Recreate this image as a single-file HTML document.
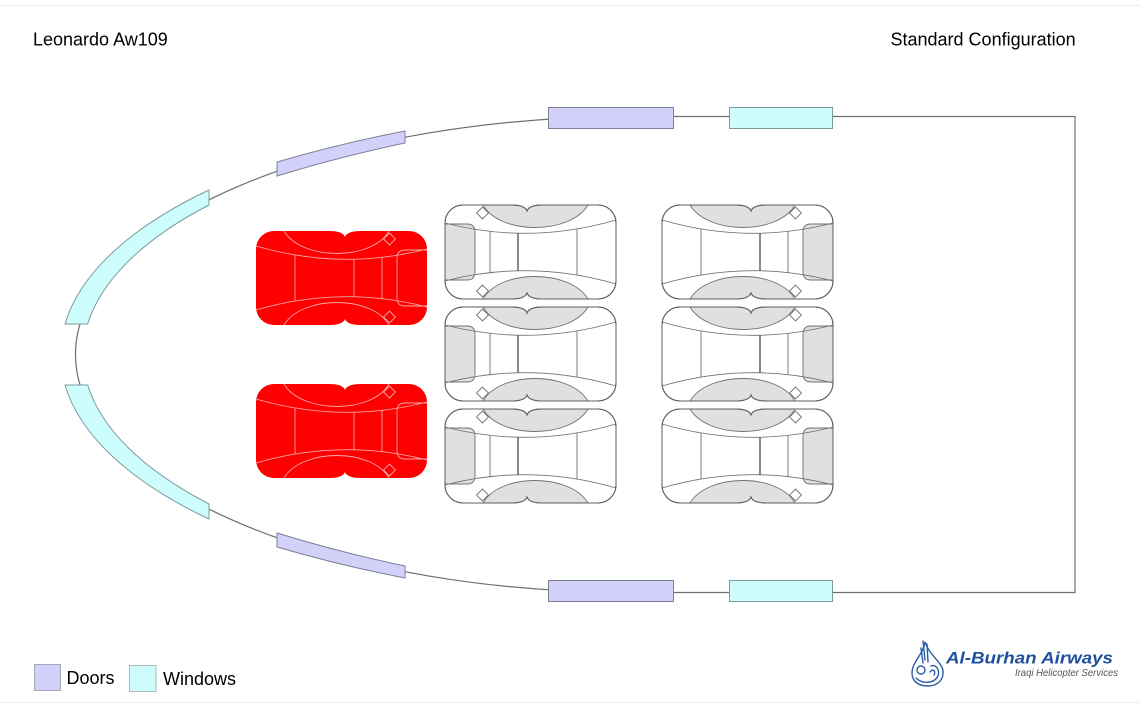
<!DOCTYPE html>
<html><head><meta charset="utf-8"><style>
html,body{margin:0;padding:0;background:#fff;}
svg{display:block;}
text{font-family:"Liberation Sans",Arial,sans-serif;}
</style></head><body>
<svg width="1140" height="709" viewBox="0 0 1140 709" xmlns="http://www.w3.org/2000/svg">
<defs>
<g id="sg">
 <path d="M18,0 L66,0 Q80,0 82,6 Q84,0 98,0 L153,0 A18,18 0 0 1 171,18 L171,76 A18,18 0 0 1 153,94 L98,94 Q84,94 82,88 Q80,94 66,94 L18,94 A18,18 0 0 1 0,76 L0,18 A18,18 0 0 1 18,0 Z" fill="#fff" stroke="#5e5e5e" stroke-width="1"/>
 <path d="M38,0 L66,0 Q80,0 82,6 Q84,0 98,0 L143,0 C125,30 55,30 38,0 Z" fill="#e0e0e0" stroke="#707070" stroke-width="0.9"/>
 <path d="M38,94 L66,94 Q80,94 82,88 Q84,94 98,94 L143,94 C125,64 55,64 38,94 Z" fill="#e0e0e0" stroke="#707070" stroke-width="0.9"/>
 <path d="M0,19 L22,19 Q30,19 30,27 L30,67 Q30,75 22,75 L0,75 Z" fill="#e0e0e0" stroke="#707070" stroke-width="0.9"/>
 <path d="M0,18 Q85,40 171,15" fill="none" stroke="#707070" stroke-width="0.9"/>
 <path d="M0,76 Q85,54 171,79" fill="none" stroke="#707070" stroke-width="0.9"/>
 <line x1="45" y1="26.3" x2="45" y2="67.7" stroke="#707070" stroke-width="0.9"/>
 <line x1="73" y1="28.2" x2="73" y2="65.8" stroke="#4a4a4a" stroke-width="1.3"/>
 <line x1="132" y1="24" x2="132" y2="70" stroke="#707070" stroke-width="0.9"/>
 <rect x="-4.2" y="-4.2" width="8.4" height="8.4" transform="translate(37.5,8) rotate(45)" fill="#fff" stroke="#707070" stroke-width="0.9"/>
 <rect x="-4.2" y="-4.2" width="8.4" height="8.4" transform="translate(37.5,86) rotate(45)" fill="#fff" stroke="#707070" stroke-width="0.9"/>
 <path d="M18,0 L66,0 Q80,0 82,6 Q84,0 98,0 L153,0 A18,18 0 0 1 171,18 L171,76 A18,18 0 0 1 153,94 L98,94 Q84,94 82,88 Q80,94 66,94 L18,94 A18,18 0 0 1 0,76 L0,18 A18,18 0 0 1 18,0 Z" fill="none" stroke="#5e5e5e" stroke-width="1"/>
</g>
<g id="sr">
 <path d="M18,0 L66,0 Q80,0 82,6 Q84,0 98,0 L153,0 A18,18 0 0 1 171,18 L171,76 A18,18 0 0 1 153,94 L98,94 Q84,94 82,88 Q80,94 66,94 L18,94 A18,18 0 0 1 0,76 L0,18 A18,18 0 0 1 18,0 Z" fill="#ff0000" stroke="none"/>
 <g fill="none" stroke="#f4a8a8" stroke-width="0.9">
 <path d="M38,0 C55,30 125,30 143,0"/>
 <path d="M38,94 C55,64 125,64 143,94"/>
 <path d="M0,19 L22,19 Q30,19 30,27 L30,67 Q30,75 22,75 L0,75"/>
 <path d="M0,18 Q85,40 171,15"/>
 <path d="M0,76 Q85,54 171,79"/>
 <line x1="45" y1="26.3" x2="45" y2="67.7"/>
 <line x1="73" y1="28.2" x2="73" y2="65.8"/>
 <line x1="132" y1="24" x2="132" y2="70"/>
 <rect x="-4.2" y="-4.2" width="8.4" height="8.4" transform="translate(37.5,8) rotate(45)"/>
 <rect x="-4.2" y="-4.2" width="8.4" height="8.4" transform="translate(37.5,86) rotate(45)"/>
 </g>
</g>
<g id="half">
 <path d="M277,162 Q341,143.3 405,131 L405,143 Q341,156.3 277,176 Z" fill="#d1d1f9" stroke="#7e7e96" stroke-width="1"/>
 <path d="M209,190 A572,244.7 0 0 0 65,324 L87.7,324 A549.5,234.6 0 0 1 209,205 Z" fill="#cdfdfd" stroke="#7f9a9a" stroke-width="1"/>
 <rect x="548.5" y="107.5" width="125" height="21" fill="#d1d1f9" stroke="#7e7e96" stroke-width="1"/>
 <rect x="729.5" y="107.5" width="103" height="21" fill="#cdfdfd" stroke="#7f9a9a" stroke-width="1"/>
</g>
</defs>

<line x1="0" y1="5.5" x2="1140" y2="5.5" stroke="#ececec" stroke-width="1"/>
<line x1="0" y1="702.5" x2="1140" y2="702.5" stroke="#ececec" stroke-width="1"/>

<text x="33" y="45.7" font-size="18" fill="#000">Leonardo Aw109</text>
<text x="890.5" y="45.7" font-size="18" fill="#000">Standard Configuration</text>

<!-- fuselage outline -->
<path d="M632.5,116.5 A557,238 0 0 0 632.5,592.5 L1075,592.5 L1075,116.5 Z" fill="none" stroke="#6e6e6e" stroke-width="1.2"/>

<use href="#half"/>
<use href="#half" transform="translate(0,709) scale(1,-1)"/>

<!-- seats left column (pad left) -->
<use href="#sg" transform="translate(445,205)"/>
<use href="#sg" transform="translate(445,307)"/>
<use href="#sg" transform="translate(445,409)"/>
<!-- seats right column (pad right) -->
<use href="#sg" transform="translate(833,205) scale(-1,1)"/>
<use href="#sg" transform="translate(833,307) scale(-1,1)"/>
<use href="#sg" transform="translate(833,409) scale(-1,1)"/>
<!-- red seats -->
<use href="#sr" transform="translate(427,231) scale(-1,1)"/>
<use href="#sr" transform="translate(427,384) scale(-1,1)"/>

<!-- legend -->
<rect x="34.5" y="664.5" width="26" height="26" fill="#d1d1f9" stroke="#a8a8b8" stroke-width="1"/>
<text x="66.5" y="684" font-size="18" fill="#000">Doors</text>
<rect x="129.5" y="665.5" width="26.5" height="26" fill="#cdfdfd" stroke="#a8bcbc" stroke-width="1"/>
<text x="163" y="685" font-size="18" fill="#000">Windows</text>

<!-- logo -->
<g fill="none" stroke="#2a5ea8" stroke-width="1.4" stroke-linecap="round">
 <path d="M925,642 C923,655 912,662 912,673 C912,682 919,686 928,686 C937,686 944,680 943,671 C942,662 929,655 925,642 Z"/>
 <path d="M923,641 L925,660 M927,644 L928,662 M921,648 L923,663"/>
 <circle cx="921" cy="670" r="4"/>
 <path d="M916,678 C922,684 934,684 938,676 C940,670 936,664 931,666"/>
 <path d="M930,672 C933,668 936,671 934,675"/>
</g>
<text x="946" y="663.5" font-size="17" font-weight="bold" font-style="italic" fill="#1f4f9e" textLength="167" lengthAdjust="spacingAndGlyphs">Al-Burhan Airways</text>
<text x="1015" y="676" font-size="10" font-style="italic" fill="#555" textLength="103" lengthAdjust="spacingAndGlyphs">Iraqi Helicopter Services</text>
</svg>
</body></html>
